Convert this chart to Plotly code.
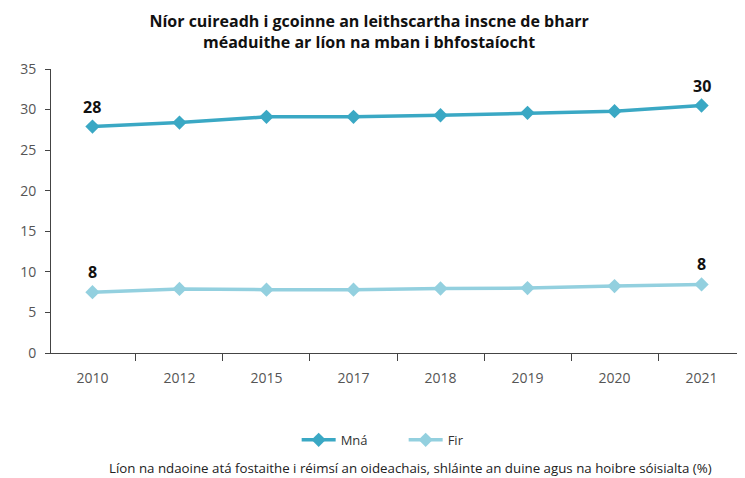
import plotly.graph_objects as go

years = ["2010", "2012", "2015", "2017", "2018", "2019", "2020", "2021"]
mna = [27.9, 28.4, 29.1, 29.1, 29.3, 29.6, 29.8, 30.5]
fir = [7.5, 7.9, 7.8, 7.8, 7.95, 8.0, 8.25, 8.45]
mna_labels = ["28", "", "", "", "", "", "", "30"]
fir_labels = ["8", "", "", "", "", "", "", "8"]

c_mna = "#3aa8c4"
c_fir = "#93d0df"

fig = go.Figure()
fig.add_trace(go.Scatter(
    x=years, y=mna, name="Mná", mode="lines+markers",
    line=dict(color=c_mna, width=3.5),
    marker=dict(symbol="diamond", size=11, color=c_mna),
))
fig.add_trace(go.Scatter(
    x=years, y=fir, name="Fir", mode="lines+markers",
    line=dict(color=c_fir, width=3.5),
    marker=dict(symbol="diamond", size=11, color=c_fir),
))

annotations = []
for ys, labs in ((mna, mna_labels), (fir, fir_labels)):
    for i, (y, t) in enumerate(zip(ys, labs)):
        if t:
            annotations.append(dict(
                x=i, y=y, text="<b>%s</b>" % t, showarrow=False,
                yshift=20, yanchor="middle", xanchor="center",
                font=dict(family="Open Sans", size=16, color="#111111"),
            ))

annotations.append(dict(
    text="Líon na ndaoine atá fostaithe i réimsí an oideachais, shláinte an duine agus na hoibre sóisialta (%)",
    xref="paper", yref="paper", x=0.519, xanchor="center", y=-0.405, yanchor="middle",
    showarrow=False, font=dict(family="Open Sans", size=13.3, color="#222222"),
))

fig.update_layout(
    width=737, height=470,
    margin=dict(l=43, r=2, t=61, b=125),
    paper_bgcolor="white", plot_bgcolor="white",
    font=dict(family="Open Sans", color="#555555"),
    title=dict(
        text="<b>Níor cuireadh i gcoinne an leithscartha inscne de bharr<br>méaduithe ar líon na mban i bhfostaíocht</b>",
        x=0.49, xanchor="center", y=0.96, yanchor="top",
        font=dict(family="Open Sans", size=16, color="#111111"),
    ),
    xaxis=dict(
        type="category", categoryorder="array", categoryarray=years,
        showgrid=False, showline=True, linecolor="#444444",
        ticks="outside", tickson="boundaries", ticklen=7, tickcolor="#444444",
        tickfont=dict(size=14, color="#555555"), ticklabelstandoff=12,
    ),
    yaxis=dict(
        range=[0, 35], dtick=5, showgrid=False, showline=True, linecolor="#444444",
        ticks="outside", ticklen=5, tickcolor="#444444",
        tickfont=dict(size=14, color="#555555"), zeroline=False,
        ticklabelstandoff=6,
    ),
    legend=dict(
        orientation="h", x=0.355, xanchor="left", y=-0.306, yanchor="middle",
        font=dict(size=13, color="#333333"), itemwidth=34,
        entrywidth=58, entrywidthmode="pixels",
    ),
    annotations=annotations,
)

fig.write_html("out.html")
